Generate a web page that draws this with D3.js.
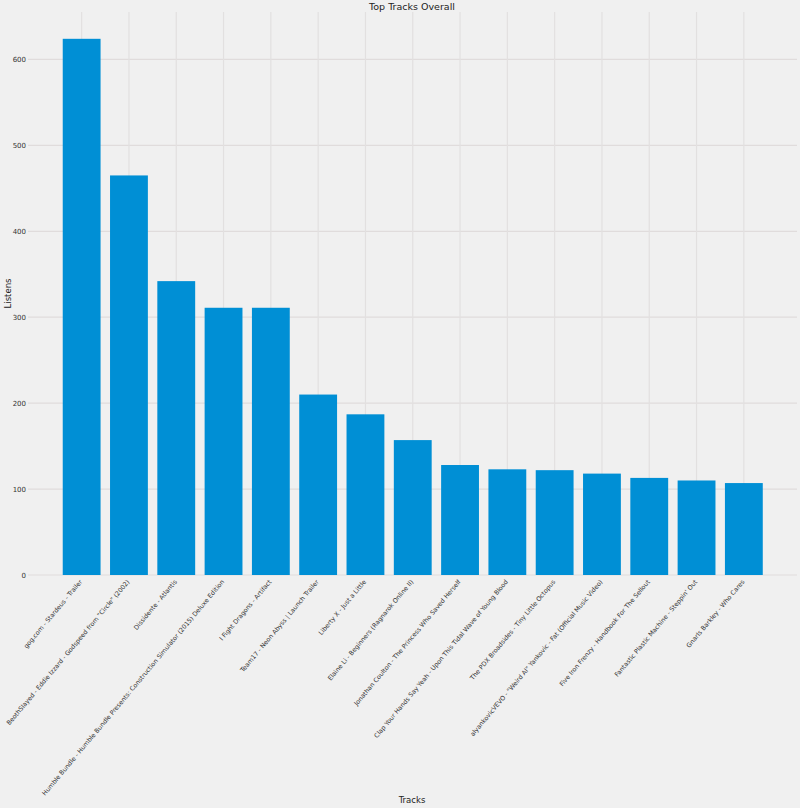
<!DOCTYPE html>
<html>
<head>
<meta charset="utf-8">
<script src="https://cdn.jsdelivr.net/npm/d3@7"></script>
<style>
  html, body { margin: 0; padding: 0; background: #f0f0f0; }
  svg { display: block; font-family: "DejaVu Sans", sans-serif; }
</style>
</head>
<body>
<svg id="chart" width="800" height="808"></svg>
<script>
const tracks = [
  "gog.com - Stardeus - Trailer",
  "BeothSlayed - Eddie Izzard - Godspeed from \"Circle\" (2002)",
  "Dissidente - Atlantis",
  "Humble Bundle - Humble Bundle Presents: Construction Simulator (2015) Deluxe Edition",
  "I Fight Dragons - Artifact",
  "Team17 - Neon Abyss | Launch Trailer",
  "Liberty X - Just a Little",
  "Elaine Li - Beginners (Ragnarok Online II)",
  "Jonathan Coulton - The Princess Who Saved Herself",
  "Clap Your Hands Say Yeah - Upon This Tidal Wave of Young Blood",
  "The PDX Broadsides - Tiny Little Octopus",
  "alyankovicVEVO - \"Weird Al\" Yankovic - Fat (Official Music Video)",
  "Five Iron Frenzy - Handbook For The Sellout",
  "Fantastic Plastic Machine - Steppin' Out",
  "Gnarls Barkley - Who Cares"
];
const listens = [624, 465, 342, 311, 311, 210, 187, 157, 128, 123, 122, 118, 113, 110, 107];
const yTicks = [0, 100, 200, 300, 400, 500, 600];

const svg = d3.select("#chart");
const W = 800, H = 808;
const axL = 28, axR = 797, axT = 12, axB = 575;

svg.append("rect").attr("width", W).attr("height", H).attr("fill", "#f0f0f0");

const x = d3.scaleBand().domain(tracks).range([58, 767.5]).paddingInner(0.2).paddingOuter(0.1);
const y = d3.scaleLinear().domain([0, d3.max(listens) * 1.05]).range([axB, axT]);

// grid
const grid = svg.append("g");
grid.selectAll("line.h").data(yTicks).join("line")
  .attr("x1", axL).attr("x2", axR)
  .attr("y1", d => y(d)).attr("y2", d => y(d))
  .attr("stroke", "#e0dcdc").attr("stroke-width", 1.2);
grid.selectAll("line.v").data(tracks).join("line")
  .attr("x1", d => x(d) + x.bandwidth() / 2).attr("x2", d => x(d) + x.bandwidth() / 2)
  .attr("y1", axT).attr("y2", axB)
  .attr("stroke", "#e2e0e0").attr("stroke-width", 1.2);

// bars
svg.append("g").selectAll("rect").data(listens).join("rect")
  .attr("x", (d, i) => x(tracks[i]))
  .attr("width", x.bandwidth())
  .attr("y", d => y(d))
  .attr("height", d => y(0) - y(d))
  .attr("fill", "#008fd5");

// y axis
const yAxis = d3.axisLeft(y).tickValues(yTicks).tickSize(0).tickPadding(0).tickFormat(d3.format("d"));
const yg = svg.append("g").attr("transform", `translate(${axL - 2},0)`).call(yAxis);
yg.select(".domain").remove();
yg.selectAll("text").attr("font-size", "7px").attr("fill", "#333").attr("font-family", "DejaVu Sans, sans-serif");

// x axis labels
const xAxis = d3.axisBottom(x).tickSize(0).tickPadding(0);
const xg = svg.append("g").attr("transform", `translate(0,${axB})`).call(xAxis);
xg.select(".domain").remove();
xg.selectAll("text")
  .attr("font-size", "6.3px").attr("fill", "#333").attr("font-family", "DejaVu Sans, sans-serif")
  .attr("text-anchor", "end")
  .attr("dy", 0).attr("y", 0)
  .attr("transform", "translate(1,7) rotate(-50)");

// title and axis labels
svg.append("text").attr("x", 412).attr("y", 10).attr("text-anchor", "middle")
  .attr("font-size", "9.5px").attr("fill", "#222").text("Top Tracks Overall");
svg.append("text").attr("x", 412).attr("y", 803).attr("text-anchor", "middle")
  .attr("font-size", "8.5px").attr("fill", "#222").text("Tracks");
svg.append("text").attr("transform", `translate(11,${(axT + axB) / 2}) rotate(-90)`).attr("text-anchor", "middle")
  .attr("font-size", "8.5px").attr("fill", "#222").text("Listens");
</script>
</body>
</html>
